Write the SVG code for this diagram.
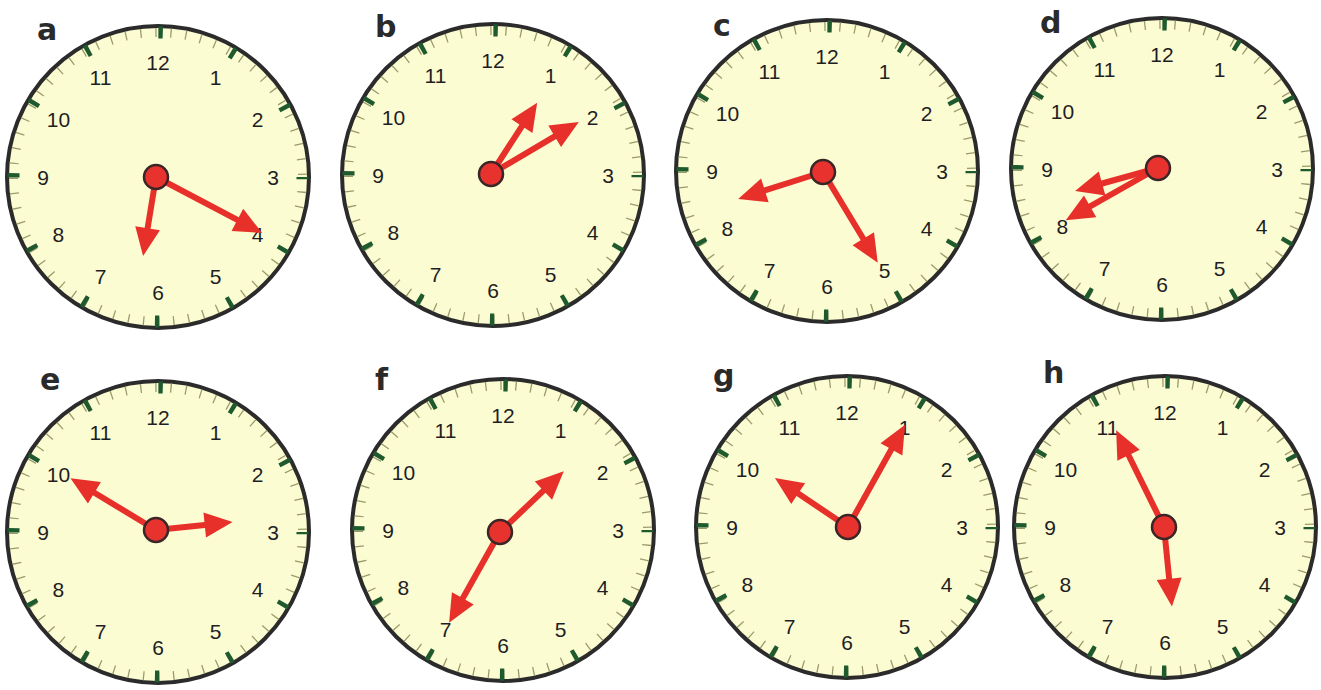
<svg xmlns="http://www.w3.org/2000/svg" xmlns:xlink="http://www.w3.org/1999/xlink" width="1321" height="690" viewBox="0 0 1321 690">
<style>
.rim{fill:#FCFCD2;stroke:#2b2b2b;stroke-width:4}
.minor{fill:none;stroke:#9a9a6c;stroke-width:9;stroke-dasharray:1.3 13.78;stroke-dashoffset:0.65}
.major{fill:none;stroke:#1f5a2e;stroke-width:12;stroke-dasharray:4.5 71.42;stroke-dashoffset:2.25}
.num{font-family:"Liberation Sans",Arial,sans-serif;font-size:21px;fill:#1e1e24;text-anchor:middle}
.lbl{font-family:"DejaVu Sans","Noto Sans",sans-serif;font-size:30px;font-weight:bold;fill:#2a2a2a}
.hand{fill:#E8302B}
.hub{fill:#E8322E;stroke:#3a2626;stroke-width:2.5}
</style>
<defs>
<g id="face">
<circle class="rim" r="151"/>
<circle class="minor" r="144.5"/>
<circle class="major" r="144.5"/>
<g class="num">
<text x="57.5" y="-92">1</text>
<text x="99.6" y="-50">2</text>
<text x="115" y="7.5">3</text>
<text x="99.6" y="65">4</text>
<text x="57.5" y="107">5</text>
<text x="0" y="122.5">6</text>
<text x="-57.5" y="107">7</text>
<text x="-99.6" y="65">8</text>
<text x="-115" y="7.5">9</text>
<text x="-99.6" y="-50">10</text>
<text x="-57.5" y="-92">11</text>
<text x="0" y="-107.5">12</text>
</g>
</g>
</defs>
<rect width="1321" height="690" fill="#ffffff"/>

<g id="clock-a">
<text class="lbl" x="37" y="40">a</text>
<use xlink:href="#face" href="#face" x="158" y="177"/>
<g transform="translate(156,177)">
<polygon class="hand" transform="rotate(27.8)" points="0,-3 92,-3 92,-12.5 120,0 92,12.5 92,3 0,3"/>
<polygon class="hand" transform="rotate(99.3)" points="0,-3 52,-3 52,-12.5 80,0 52,12.5 52,3 0,3"/>
<circle class="hub" r="12"/>
</g>
</g>

<g id="clock-b">
<text class="lbl" x="375" y="37">b</text>
<use xlink:href="#face" href="#face" x="493" y="175"/>
<g transform="translate(491,174)">
<polygon class="hand" transform="rotate(-57.1)" points="0,-3 57,-3 57,-12.5 85,0 57,12.5 57,3 0,3"/>
<polygon class="hand" transform="rotate(-30.6)" points="0,-3 74,-3 74,-12.5 102,0 74,12.5 74,3 0,3"/>
<circle class="hub" r="12"/>
</g>
</g>

<g id="clock-c">
<text class="lbl" x="713" y="36">c</text>
<use xlink:href="#face" href="#face" x="827" y="171"/>
<g transform="translate(823,172)">
<polygon class="hand" transform="rotate(162.4)" points="0,-3 61,-3 61,-12.5 89,0 61,12.5 61,3 0,3"/>
<polygon class="hand" transform="rotate(58.9)" points="0,-3 78,-3 78,-12.5 106,0 78,12.5 78,3 0,3"/>
<circle class="hub" r="12"/>
</g>
</g>

<g id="clock-d">
<text class="lbl" x="1040" y="33">d</text>
<use xlink:href="#face" href="#face" x="1162" y="169"/>
<g transform="translate(1158,168)">
<polygon class="hand" transform="rotate(164.5)" points="0,-3 58,-3 58,-12.5 86,0 58,12.5 58,3 0,3"/>
<polygon class="hand" transform="rotate(150.5)" points="0,-3 78,-3 78,-12.5 106,0 78,12.5 78,3 0,3"/>
<circle class="hub" r="12"/>
</g>
</g>

<g id="clock-e">
<text class="lbl" x="40" y="390">e</text>
<use xlink:href="#face" href="#face" x="158" y="532"/>
<g transform="translate(156,530)">
<polygon class="hand" transform="rotate(-148.8)" points="0,-3 72,-3 72,-12.5 100,0 72,12.5 72,3 0,3"/>
<polygon class="hand" transform="rotate(-5.9)" points="0,-3 49,-3 49,-12.5 77,0 49,12.5 49,3 0,3"/>
<circle class="hub" r="12"/>
</g>
</g>

<g id="clock-f">
<text class="lbl" x="375" y="390">f</text>
<use xlink:href="#face" href="#face" x="503" y="530"/>
<g transform="translate(500,532)">
<polygon class="hand" transform="rotate(-43.6)" points="0,-3 60,-3 60,-12.5 88,0 60,12.5 60,3 0,3"/>
<polygon class="hand" transform="rotate(119.3)" points="0,-3 76,-3 76,-12.5 104,0 76,12.5 76,3 0,3"/>
<circle class="hub" r="12"/>
</g>
</g>

<g id="clock-g">
<text class="lbl" x="713" y="386">g</text>
<use xlink:href="#face" href="#face" x="847" y="527"/>
<g transform="translate(848,527)">
<polygon class="hand" transform="rotate(-146.1)" points="0,-3 60,-3 60,-12.5 88,0 60,12.5 60,3 0,3"/>
<polygon class="hand" transform="rotate(-60.8)" points="0,-3 89,-3 89,-12.5 117,0 89,12.5 89,3 0,3"/>
<circle class="hub" r="12"/>
</g>
</g>

<g id="clock-h">
<text class="lbl" x="1043" y="383">h</text>
<use xlink:href="#face" href="#face" x="1165" y="527"/>
<g transform="translate(1164,527)">
<polygon class="hand" transform="rotate(-116.3)" points="0,-3 80,-3 80,-12.5 108,0 80,12.5 80,3 0,3"/>
<polygon class="hand" transform="rotate(84.3)" points="0,-3 52,-3 52,-12.5 80,0 52,12.5 52,3 0,3"/>
<circle class="hub" r="12"/>
</g>
</g>
</svg>
